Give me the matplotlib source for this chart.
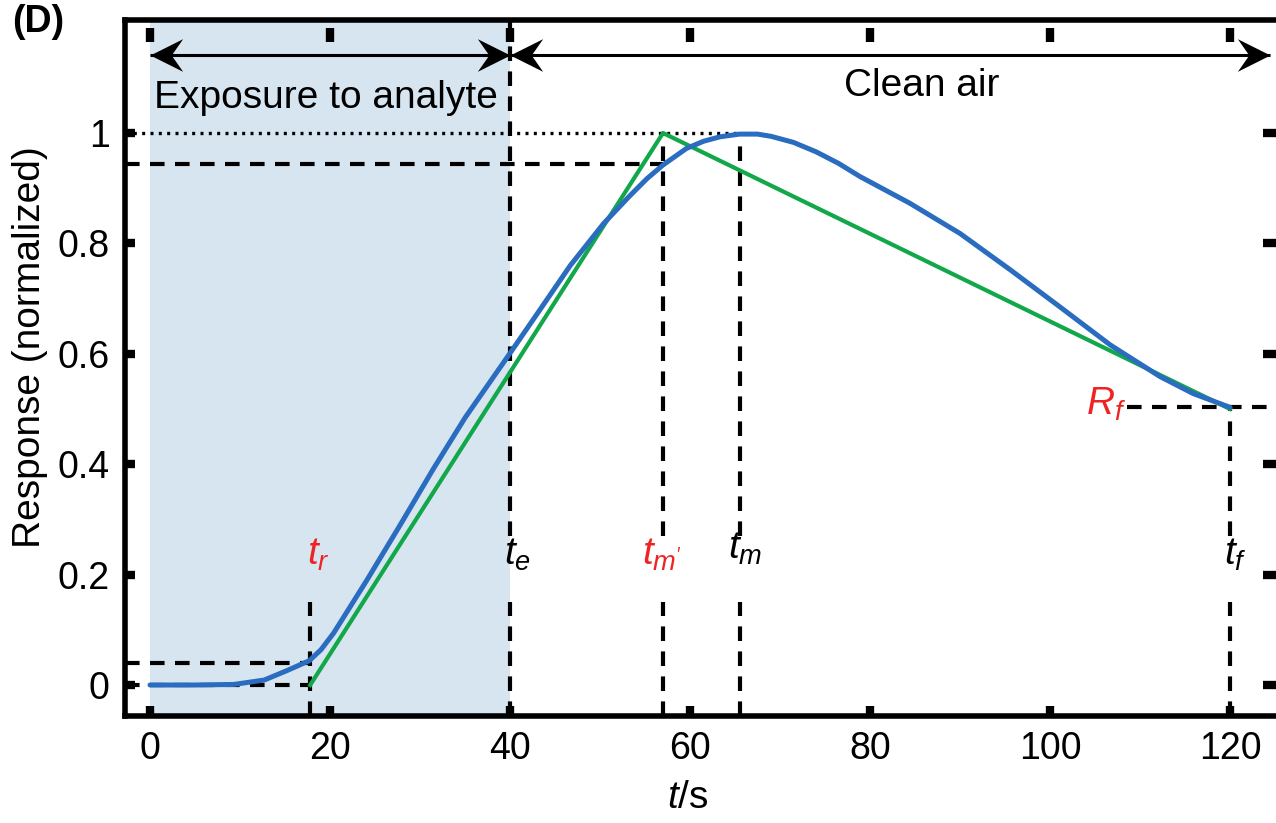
import numpy as np
import matplotlib.pyplot as plt
from matplotlib import ticker
from matplotlib.path import Path

plt.rcParams['font.family'] = ['Liberation Sans', 'DejaVu Sans']
plt.rcParams['mathtext.fontset'] = 'custom'
plt.rcParams['mathtext.rm'] = 'Liberation Sans'
plt.rcParams['mathtext.it'] = 'Liberation Sans:italic'

# values
t_blue = [0, 5, 9.3, 12.7, 15.2, 17.7, 19.0, 20.4, 24.1, 27.8, 31.5, 35, 40,
          43, 46.7, 50.4, 53.3, 55.2, 57, 59.6, 61.5, 63.3, 65.5, 67.5, 69,
          71.5, 74, 76.5, 78.9, 84.4, 90, 95.6, 101.1, 106.7, 112.2, 115.9, 120]
r_blue = [0, 0, 0.001, 0.009, 0.026, 0.044, 0.064, 0.094, 0.190, 0.290, 0.392,
          0.484, 0.601, 0.672, 0.760, 0.836, 0.886, 0.917, 0.942, 0.972, 0.985,
          0.993, 0.998, 0.998, 0.994, 0.983, 0.966, 0.945, 0.921, 0.873, 0.818,
          0.752, 0.685, 0.616, 0.559, 0.528, 0.503]
t_green = [17.8, 57.0, 120.0]
r_green = [0.0, 1.0, 0.5]

t_r, t_e, t_m1, t_m, t_f = 17.8, 40.0, 57.0, 65.5, 120.0
r_base, r_tr, r_tm1, r_max, r_f = 0.0, 0.04, 0.944, 1.0, 0.503
t_end = 124.4  # end of the clean air arrow

x_ticks = [0, 20, 40, 60, 80, 100, 120]
y_ticks = [0, 0.2, 0.4, 0.6, 0.8, 1.0]
y_labels = ['0', '0.2', '0.4', '0.6', '0.8', '1']

# layout: pixel of data origin and pixels per data unit
W, H = 1276, 823
x0, y0, sx, sy = 150, 685, 9.0, 552.0
xlim = (-2.8, 125.7)
ylim = (-0.056, 1.205)
left = x0 + sx * xlim[0]
right = x0 + sx * xlim[1]
top = y0 - sy * ylim[1]
bottom = y0 - sy * ylim[0]

fig = plt.figure(figsize=(W / 100, H / 100), dpi=100)
ax = fig.add_axes([left / W, 1 - bottom / H, (right - left) / W, (bottom - top) / H])
ax.set_xlim(*xlim)
ax.set_ylim(*ylim)

fs = 27
blue = '#2a6cbf'
green = '#12a84a'
red = '#ee2424'
dash = dict(color='k', lw=3, linestyle=(0, (3.5, 2.5)), zorder=3)

ax.axvspan(0, t_e, color='#d7e5f1', lw=0, zorder=0)

# guide lines
ax.hlines(r_max, xlim[0], t_m, color='k', lw=2.4, linestyle=(0, (0.9, 1.6)), zorder=3)
ax.hlines([r_tm1], xlim[0], t_m1, **dash)
ax.hlines([r_tr, r_base], xlim[0], t_r, **dash)
ax.hlines(r_f, 108.6, xlim[1], **dash)
lo_top, up_bot = 0.15, 0.27
ax.vlines([t_r, t_e, t_m1, t_m, t_f], ylim[0], lo_top, **dash)
ax.vlines(t_e, up_bot, ylim[1], **dash)
ax.vlines(t_m1, up_bot, r_green[1], **dash)
ax.vlines(t_m, up_bot, r_max, **dash)
ax.vlines(t_f, up_bot, r_f, **dash)

ax.plot(t_green, r_green, color=green, lw=3, zorder=4)
ax.plot(t_blue, r_blue, color=blue, lw=3.6, zorder=5, solid_capstyle='round',
        solid_joinstyle='round')

# double arrows with stealth heads
head_r = Path([(0, 0), (-1, 0.5), (-0.65, 0), (-1, -0.5), (0, 0)],
              [Path.MOVETO, Path.LINETO, Path.LINETO, Path.LINETO, Path.CLOSEPOLY])
head_l = Path([(0, 0), (1, 0.5), (0.65, 0), (1, -0.5), (0, 0)],
              [Path.MOVETO, Path.LINETO, Path.LINETO, Path.LINETO, Path.CLOSEPOLY])
y_arr = 1.142
for a, b in [(0, t_e), (t_e, t_end)]:
    ax.hlines(y_arr, a, b, color='k', lw=2.2, zorder=6)
    ax.plot([a], [y_arr], marker=head_l, ms=47, color='k', mew=0, zorder=6, clip_on=False)
    ax.plot([b], [y_arr], marker=head_r, ms=47, color='k', mew=0, zorder=6, clip_on=False)
ax.text(19.5, 1.063, 'Exposure to analyte', fontsize=fs + 1, ha='center', va='center')
ax.text(85.7, 1.085, 'Clean air', fontsize=fs + 1, ha='center', va='center')

# point labels
lab_y = 0.236
ax.text(18.7, lab_y, r'$t_r$', color=red, fontsize=fs + 1, ha='center', va='center')
ax.text(40.8, lab_y, r'$t_e$', color='k', fontsize=fs + 1, ha='center', va='center')
ax.text(56.9, lab_y, r"$t_{m'}$", color=red, fontsize=fs + 1, ha='center', va='center')
ax.text(66.1, lab_y + 0.01, r'$t_m$', color='k', fontsize=fs + 1, ha='center', va='center')
ax.text(120.6, lab_y, r'$t_f$', color='k', fontsize=fs + 1, ha='center', va='center')
ax.text(108.4, r_f + 0.005, r'$R_f$', color=red, fontsize=fs + 1, ha='right', va='center')

# axes styling
for s in ax.spines.values():
    s.set_linewidth(4)
ax.set_xticks(x_ticks)
ax.set_yticks(y_ticks)
ax.yaxis.set_major_formatter(ticker.FixedFormatter(y_labels))
ax.tick_params(direction='in', length=7, width=6, labelsize=fs)
ax.tick_params(axis='x', pad=11)
ax.tick_params(axis='y', pad=11)
ax.tick_params(axis='y', which='major', right=True, labelright=False)
for t in ax.yaxis.get_major_ticks():
    t.tick2line.set_markersize(13)

sec = ax.secondary_xaxis((bottom - 28) / (bottom - top))
sec.set_xticks(x_ticks)
sec.tick_params(direction='in', length=10, width=6, labeltop=False, labelbottom=False)
sec.spines['top'].set_visible(False)
sec.spines['bottom'].set_visible(False)

fig.text(30 / W, 1 - 347 / H, 'Response (normalized)', rotation=90, fontsize=fs + 1,
         ha='center', va='center')
fig.text(688 / W, 1 - 798 / H, r'$t$/s', fontsize=fs + 1, ha='center', va='center')
fig.text(38 / W, 1 - 22 / H, '(D)', fontsize=fs, fontweight='bold',
         ha='center', va='center')

fig.savefig('out.png', dpi=100)
